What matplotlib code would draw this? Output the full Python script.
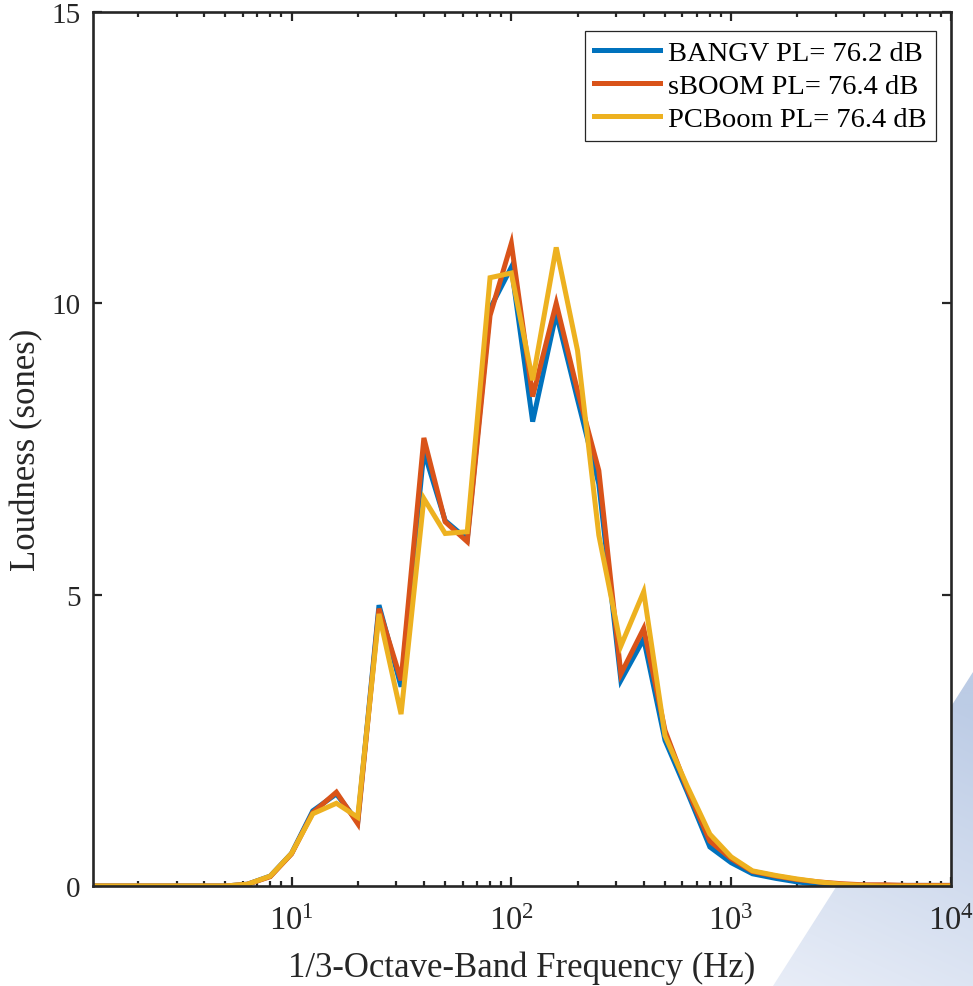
import numpy as np
import matplotlib
matplotlib.use("Agg")
import matplotlib.pyplot as plt
from matplotlib.patches import Polygon
from matplotlib.ticker import LogLocator, NullFormatter

plt.rcParams["font.family"] = ["Liberation Serif", "DejaVu Serif"]
plt.rcParams["mathtext.fontset"] = "stix"

# 1/3-octave band centre frequencies (Hz)
freqs = [1.25, 1.6, 2, 2.5, 3.15, 4, 5, 6.3, 8, 10,
         12.5, 16, 20, 25, 31.5, 40, 50, 63, 80, 100,
         125, 160, 200, 250, 315, 400, 500, 630, 800, 1000,
         1250, 1600, 2000, 2500, 3150, 4000, 5000, 6300, 8000, 10000]

# Band loudness (sones) for each propagation code
bangv = [0, 0, 0, 0, 0, 0, 0, 0.03, 0.17, 0.56,
         1.29, 1.58, 1.10, 4.82, 3.42, 7.46, 6.27, 5.95, 9.91, 10.62,
         7.97, 9.83, 8.35, 6.90, 3.53, 4.24, 2.50, 1.62, 0.67, 0.40,
         0.21, 0.13, 0.07, 0.03, 0.01, 0.01, 0.01, 0.01, 0.01, 0.01]
sboom = [0, 0, 0, 0, 0, 0, 0, 0.03, 0.16, 0.55,
         1.26, 1.61, 1.07, 4.76, 3.53, 7.69, 6.25, 5.91, 9.79, 11.03,
         8.40, 10.00, 8.50, 7.13, 3.64, 4.42, 2.67, 1.67, 0.77, 0.47,
         0.25, 0.17, 0.11, 0.07, 0.04, 0.02, 0.02, 0.01, 0.01, 0.01]
pcboom = [0, 0, 0, 0, 0, 0, 0, 0.03, 0.17, 0.56,
          1.24, 1.42, 1.18, 4.67, 2.95, 6.65, 6.05, 6.08, 10.44, 10.52,
          8.68, 10.96, 9.19, 6.02, 4.12, 5.05, 2.58, 1.72, 0.89, 0.50,
          0.26, 0.18, 0.12, 0.07, 0.03, 0.01, 0, 0, 0, 0]

labels = ["BANGV PL= 76.2 dB", "sBOOM PL= 76.4 dB", "PCBoom PL= 76.4 dB"]
colors = ["#0072BD", "#D95319", "#EDB120"]

W, H = 973, 987
fig = plt.figure(figsize=(W / 100, H / 100), dpi=100)
fig.patch.set_facecolor("white")

# Light blue backdrop wedge in the lower-right corner, fading downwards
bg = fig.add_axes([0, 0, 1, 1], zorder=-10)
bg.set_xlim(0, W)
bg.set_ylim(H, 0)
bg.axis("off")
gx, gy = np.meshgrid(np.linspace(0, 1, 200), np.linspace(0, 1, 200))
grad = np.clip(0.85 * (1 - gy) + 0.25 * gx, 0, 1)
c0 = np.array([0.91, 0.93, 0.97])
c1 = np.array([0.74, 0.80, 0.90])
img = c0[None, None, :] * (1 - grad[..., None]) + c1[None, None, :] * grad[..., None]
im = bg.imshow(img, extent=[773, W, H, 673], aspect="auto", interpolation="bilinear")
wedge = Polygon([[773, H], [W, 673], [W, H]], closed=True, transform=bg.transData,
                facecolor="none", edgecolor="none")
bg.add_patch(wedge)
im.set_clip_path(wedge)

ax = fig.add_axes([93 / W, 1 - 887 / H, (951 - 93) / W, (887 - 13) / H])
ax.set_facecolor("white")

for y, lab, c in zip([bangv, sboom, pcboom], labels, colors):
    ax.plot(freqs, y, color=c, lw=3.6, label=lab, solid_joinstyle="miter")

ax.set_xscale("log")
ax.set_xlim(1.25, 10000)
ax.set_ylim(0, 15)
ax.set_yticks([0, 5, 10, 15])
ax.xaxis.set_major_locator(LogLocator(base=10, numticks=10))
ax.xaxis.set_minor_locator(LogLocator(base=10, subs=np.arange(2, 10), numticks=20))
ax.xaxis.set_minor_formatter(NullFormatter())

spine_c = "#262626"
for s in ax.spines.values():
    s.set_linewidth(1.9)
    s.set_color(spine_c)
ax.tick_params(which="both", direction="in", top=True, right=True, color=spine_c,
               labelcolor="#262626", width=1.6)
ax.tick_params(which="major", length=6.5)
ax.tick_params(which="minor", length=3.5)
ax.tick_params(axis="y", which="major", labelsize=21, pad=9)
ax.tick_params(axis="x", which="major", labelsize=23.5, pad=14)

ax.set_xlabel("1/3-Octave-Band Frequency (Hz)", fontsize=25, color="#262626", va="center")
ax.xaxis.set_label_coords(0.5, (887 - 968) / 874)
ax.set_ylabel("Loudness (sones)", fontsize=25, color="#262626", va="center")
ax.yaxis.set_label_coords((27 - 93) / 858, (887 - 450) / 874)

leg = ax.legend(loc="upper right", bbox_to_anchor=(936 / W, 1 - 32 / H),
                bbox_transform=fig.transFigure, borderaxespad=0, fontsize=20.5,
                handlelength=2.3, handletextpad=0.3, labelspacing=0.25,
                borderpad=0.32, fancybox=False, framealpha=1)
leg.get_frame().set_edgecolor("#262626")
leg.get_frame().set_linewidth(0.9)
for t in leg.get_texts():
    t.set_color("black")

fig.savefig("out.png", dpi=100)
